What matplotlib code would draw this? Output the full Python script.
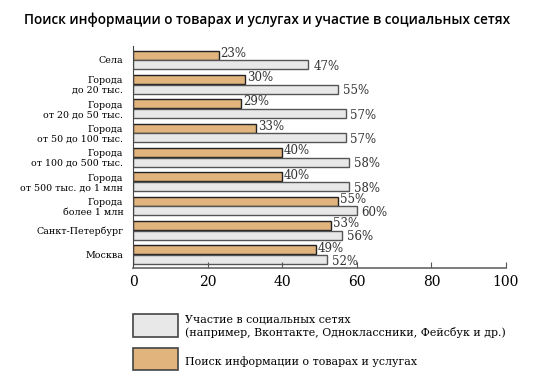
import numpy as np
import matplotlib.pyplot as plt
from matplotlib.patches import Rectangle

# данные
categories = ["Села", "Города\nдо 20 тыс.", "Города\nот 20 до 50 тыс.", "Города\nот 50 до 100 тыс.",
              "Города\nот 100 до 500 тыс.", "Города\nот 500 тыс. до 1 млн", "Города\nболее 1 млн",
              "Санкт-Петербург", "Москва"]
search = [23, 30, 29, 33, 40, 40, 55, 53, 49]
social = [47, 55, 57, 57, 58, 58, 60, 56, 52]
xticks = [0, 20, 40, 60, 80, 100]

orange = "#E0B47C"
gray = "#E8E8E8"
serif = "DejaVu Serif"

fig = plt.figure(figsize=(5.41, 3.91), dpi=100)
ax = fig.add_axes([133 / 541, 1 - 268 / 391, 373 / 541, 222 / 391])

y = np.arange(len(categories))
h = 0.37
ax.barh(y - 0.2, search, height=h, color=orange, edgecolor="#222222", linewidth=1.0)
ax.barh(y + 0.2, social, height=h, color=gray, edgecolor="#555555", linewidth=1.0)

for i in range(len(categories)):
    ax.text(search[i] + 0.5, y[i] - 0.27, f"{search[i]}%", fontsize=8.5, family=serif,
            va="center", ha="left", color="#333333")
    ax.text(social[i] + 1.3, y[i] + 0.27, f"{social[i]}%", fontsize=8.5, family=serif,
            va="center", ha="left", color="#333333")

ax.set_xlim(0, 100)
ax.set_ylim(len(categories) - 1 + 0.55, -0.57)
ax.set_xticks(xticks)
ax.set_xticklabels([str(t) for t in xticks], fontsize=10, family=serif)
ax.set_yticks(y)
ax.set_yticklabels(categories, fontsize=6.8, family=serif, linespacing=1.1)
ax.tick_params(axis="y", length=0, pad=7)
ax.tick_params(axis="x", direction="in", length=4, color="#555555", pad=5)
for s in ["top", "right"]:
    ax.spines[s].set_visible(False)
ax.spines["left"].set_color("#444444")
ax.spines["bottom"].set_color("#666666")
ax.spines["bottom"].set_linewidth(1.2)

fig.text(267 / 541, 1 - 20 / 391, "Поиск информации о товарах и услугах и участие в социальных сетях",
         ha="center", va="center", fontsize=9.8, family="Open Sans", fontweight="semibold")

# легенда
def box(x0, y0, x1, y1, color):
    fig.add_artist(Rectangle((x0 / 541, 1 - y1 / 391), (x1 - x0) / 541, (y1 - y0) / 391,
                             transform=fig.transFigure, facecolor=color,
                             edgecolor="#444444", linewidth=1.2))

box(133, 314, 178, 337, gray)
box(133, 348, 178, 370, orange)
fig.text(185 / 541, 1 - 319 / 391, "Участие в социальных сетях", fontsize=7.95, family=serif,
         va="center", ha="left")
fig.text(185 / 541, 1 - 332 / 391, "(например, Вконтакте, Одноклассники, Фейсбук и др.)",
         fontsize=7.95, family=serif, va="center", ha="left")
fig.text(185 / 541, 1 - 362 / 391, "Поиск информации о товарах и услугах", fontsize=7.95,
         family=serif, va="center", ha="left")

fig.savefig("out.png", dpi=100)
